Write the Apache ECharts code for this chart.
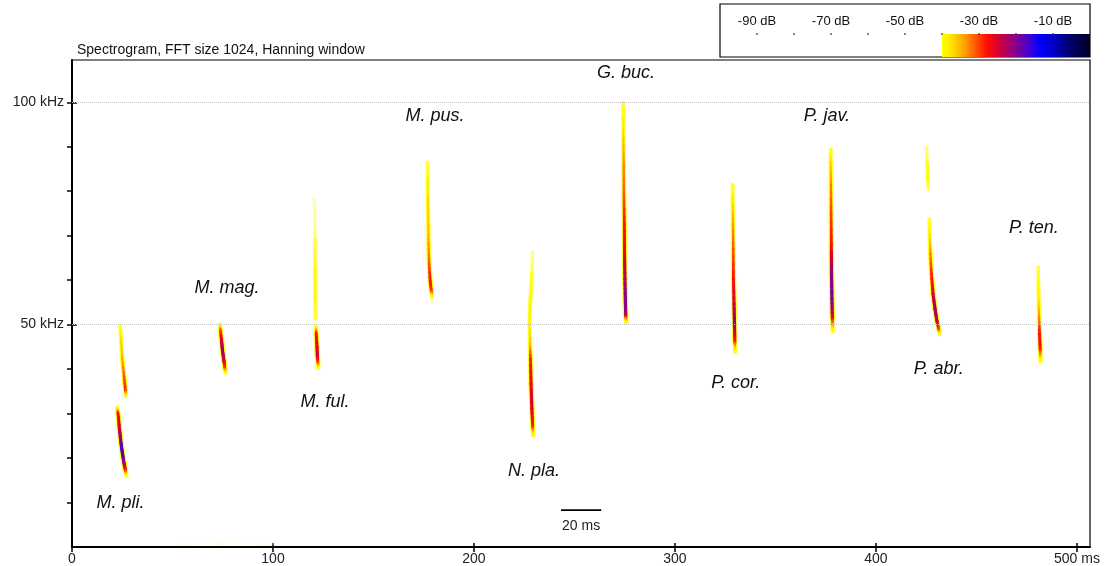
<!DOCTYPE html>
<html>
<head>
<meta charset="utf-8">
<script src="https://cdn.jsdelivr.net/npm/echarts@6/dist/echarts.min.js"></script>
<style>
html, body { margin: 0; padding: 0; background: #fff; }
#chart { width: 1111px; height: 566px; }
</style>
</head>
<body>
<div id="chart"></div>
<script>
// Echolocation call contours: [time (ms), frequency (kHz), level (dB)]
const mPliUpper = [[23.9,49.7,-42],[24.4,46.8,-37],[25.0,42.3,-35],[25.9,38.3,-31],[26.6,35.2,-29],[26.9,34.0,-41]];
const mPliLower = [[22.5,31.3,-41],[22.9,30.0,-28],[23.6,26.6,-25],[24.4,23.3,-19],[25.1,21.0,-16],[25.9,18.8,-22],[26.6,17.2,-28],[27.1,16.1,-41]];
const mMag = [[73.6,50.0,-41],[73.9,48.6,-30],[74.4,46.4,-26],[74.9,44.1,-21],[75.6,41.9,-24],[76.1,40.1,-30],[76.4,39.2,-41]];
const mFulUpper = [[120.6,78.2,-47],[120.9,69.2,-43],[120.9,62.5,-40],[121.0,55.8,-39],[121.2,51.3,-43]];
const mFulLower = [[121.4,49.5,-40],[121.5,47.9,-28],[121.9,45.0,-26],[122.1,42.8,-25],[122.4,41.2,-31],[122.5,40.3,-41]];
const mPus = [[176.9,86.5,-43],[177.0,82.7,-39],[177.1,78.2,-37],[177.3,72.6,-36],[177.4,68.1,-34],[177.7,63.6,-31],[178.2,59.8,-28],[178.8,57.6,-29],[179.1,56.2,-41]];
const nPla = [[229.1,66.3,-46],[228.8,61.4,-41],[228.1,55.8,-39],[227.6,50.2,-38],[227.9,45.7,-36],[228.1,42.3,-29],[228.4,36.7,-26],[228.8,31.1,-25],[229.2,27.1,-28],[229.5,25.1,-41]];
const gBuc = [[274.3,99.9,-42],[274.3,96.1,-39],[274.4,91.6,-36],[274.5,86.0,-33],[274.6,79.3,-31],[274.8,72.6,-28],[274.9,65.9,-26],[275.1,60.3,-23],[275.3,55.8,-20],[275.5,52.4,-21],[275.7,50.6,-40]];
const pCor = [[328.7,81.5,-42],[328.7,78.2,-38],[328.9,72.6,-34],[329.0,67.0,-31],[329.1,60.3,-28],[329.4,54.7,-25],[329.6,50.2,-21],[329.8,46.4,-27],[329.9,43.9,-41]];
const pJav = [[377.5,89.4,-42],[377.5,86.7,-37],[377.6,81.5,-33],[377.7,74.8,-30],[377.8,68.1,-28],[377.9,61.4,-21],[378.1,55.8,-19],[378.3,51.7,-25],[378.5,48.6,-41]];
const pAbrUpper = [[425.2,89.8,-45],[425.5,86.0,-41],[425.8,82.7,-40],[426.0,80.4,-44]];
const pAbrLower = [[426.5,73.7,-42],[426.7,70.3,-38],[427.1,65.9,-33],[427.6,61.4,-29],[428.4,56.9,-26],[429.4,53.5,-22],[430.3,50.9,-24],[431.3,48.8,-30],[431.6,47.9,-41]];
const pTen = [[480.7,63.0,-43],[480.8,59.1,-40],[481.0,54.7,-37],[481.2,51.3,-33],[481.4,47.9,-28],[481.7,44.6,-27],[481.9,41.7,-41]];
const lowNoise = [[52.7,0.7,-53],[75.0,0.8,-52],[100.0,0.7,-53],[102.5,0.7,-54]];

const traces = [mPliUpper, mPliLower, mMag, mFulUpper, mFulLower, mPus, nPla, gBuc, pCor, pJav, pAbrUpper, pAbrLower, pTen, lowNoise];

// Species names and where each name sits (time ms, frequency kHz)
const speciesNames = ['M. pli.', 'M. mag.', 'M. ful.', 'M. pus.', 'N. pla.', 'G. buc.', 'P. cor.', 'P. jav.', 'P. abr.', 'P. ten.'];
const speciesLabelAt = [[24.1,9.9],[77.1,58.3],[125.9,32.7],[180.6,97.0],[229.9,17.2],[275.6,106.6],[330.3,36.9],[375.6,97.0],[431.3,40.1],[478.6,71.7]];

// Axis ticks
const timeTicks = [0, 100, 200, 300, 400, 500];
const timeTickLabels = ['0', '100', '200', '300', '400', '500 ms'];
const freqMinorTicks = [10, 20, 30, 40, 50, 60, 70, 80, 90, 100];
const freqMajorTicks = [50, 100];
const freqTickLabels = ['50 kHz', '100 kHz'];
const gridLinesKHz = [50, 100];

// Level colour scale
const levelTicks = [-90, -70, -50, -30, -10];
const levelDots = [-90, -80, -70, -60, -50, -40, -30, -20, -10];
const levelStops = [
  [-47, '#ffffd8'], [-40, '#ffff00'], [-38, '#ffee00'], [-33.6, '#ff9900'], [-28, '#ff1000'],
  [-24.4, '#d0003a'], [-21.6, '#a00070'], [-18.8, '#7000a8'], [-16, '#3c00d8'],
  [-13.6, '#0000ff'], [-10, '#0000c8'], [-5.6, '#000070'], [0, '#000020']
];

// Time scale bar
const scaleBarMs = [243.3, 263.3];
const scaleBarKHz = 8.3;
const scaleBarText = '20 ms';
const scaleBarTextAt = [253.3, 4.6];

const FONT = "'Liberation Sans', Arial, sans-serif";

function hexToRgb(h) {
  return [parseInt(h.slice(1, 3), 16), parseInt(h.slice(3, 5), 16), parseInt(h.slice(5, 7), 16)];
}
const stopRgb = levelStops.map(s => [s[0], hexToRgb(s[1])]);

function levelColor(db) {
  if (db <= stopRgb[0][0]) return 'rgb(' + stopRgb[0][1].join(',') + ')';
  for (let i = 1; i < stopRgb.length; i++) {
    if (db <= stopRgb[i][0]) {
      const a = stopRgb[i - 1], b = stopRgb[i];
      const t = (db - a[0]) / (b[0] - a[0]);
      const c = a[1].map((v, k) => Math.round(v + (b[1][k] - v) * t));
      return 'rgb(' + c.join(',') + ')';
    }
  }
  return 'rgb(' + stopRgb[stopRgb.length - 1][1].join(',') + ')';
}
function coreWidth(db) {
  return Math.max(0.6, Math.min(3.2, 0.8 + (db + 45) * 0.12));
}
function haloAlpha(db) {
  return Math.max(0.06, Math.min(0.85, (db + 49) / 10));
}

// One segment per pair of neighbouring contour points
const segments = [];
traces.forEach(tr => {
  for (let i = 0; i < tr.length - 1; i++) {
    segments.push([tr[i][0], tr[i][1], tr[i + 1][0], tr[i + 1][1], tr[i][2], tr[i + 1][2]]);
  }
});

function renderHalo(params, api) {
  const a = api.coord([api.value(0), api.value(1)]);
  const b = api.coord([api.value(2), api.value(3)]);
  const db = (api.value(4) + api.value(5)) / 2;
  return {
    type: 'line',
    shape: { x1: a[0], y1: a[1], x2: b[0], y2: b[1] },
    style: { stroke: 'rgba(255,255,0,' + haloAlpha(db) + ')', lineWidth: coreWidth(db) + 2.4, lineCap: 'round' }
  };
}
function renderCore(params, api) {
  const a = api.coord([api.value(0), api.value(1)]);
  const b = api.coord([api.value(2), api.value(3)]);
  const d0 = api.value(4), d1 = api.value(5);
  const parts = 4, children = [];
  for (let k = 0; k < parts; k++) {
    const u0 = k / parts, u1 = (k + 1) / parts, um = (u0 + u1) / 2;
    const db = d0 + (d1 - d0) * um;
    children.push({
      type: 'line',
      shape: {
        x1: a[0] + (b[0] - a[0]) * u0, y1: a[1] + (b[1] - a[1]) * u0,
        x2: a[0] + (b[0] - a[0]) * u1, y2: a[1] + (b[1] - a[1]) * u1
      },
      style: { stroke: levelColor(db), lineWidth: coreWidth(db), lineCap: 'round', opacity: db < -48 ? 0.3 : 1 }
    });
  }
  return { type: 'group', children };
}

const chart = echarts.init(document.getElementById('chart'), null, { renderer: 'canvas' });

chart.setOption({
  animation: false,
  backgroundColor: '#fff',
  title: {
    text: 'Spectrogram, FFT size 1024, Hanning window',
    left: 77, top: 43, padding: 0,
    textStyle: { fontSize: 14, fontWeight: 'normal', color: '#111', fontFamily: FONT }
  },
  grid: [
    { left: 72, top: 60, width: 1018, height: 489, show: true, borderColor: '#000', borderWidth: 1.2, backgroundColor: 'transparent' },
    { left: 720, top: 4, width: 370, height: 53, show: true, borderColor: '#000', borderWidth: 1.2, backgroundColor: '#fff' }
  ],
  xAxis: [
    {
      gridIndex: 0, type: 'value', min: 0, max: 506.5, position: 'bottom',
      axisLine: { show: true, lineStyle: { color: '#000', width: 2 } },
      axisTick: { show: true, customValues: timeTicks, length: 5, lineStyle: { color: '#000', width: 1.5 } },
      axisLabel: {
        customValues: timeTicks, margin: 5, fontSize: 14, color: '#222', fontFamily: FONT,
        formatter: v => timeTickLabels[timeTicks.indexOf(v)]
      },
      splitLine: { show: false }
    },
    {
      gridIndex: 0, type: 'value', min: 0, max: 506.5, position: 'bottom',
      axisLine: { show: false },
      axisTick: { show: true, inside: true, customValues: timeTicks, length: 4, lineStyle: { color: '#000', width: 1.5 } },
      axisLabel: { show: false },
      splitLine: { show: false }
    },
    {
      gridIndex: 1, type: 'value', min: -100, max: 0, position: 'top',
      axisLine: { show: false },
      axisTick: { show: false },
      axisLabel: {
        inside: true, customValues: levelTicks, margin: 11, fontSize: 13, color: '#111', fontFamily: FONT,
        formatter: v => v + ' dB'
      },
      splitLine: { show: false }
    }
  ],
  yAxis: [
    {
      gridIndex: 0, type: 'value', min: 0, max: 109.5, position: 'left',
      axisLine: { show: true, lineStyle: { color: '#000', width: 2 } },
      axisTick: { show: true, customValues: freqMinorTicks, length: 5, lineStyle: { color: '#000', width: 1.5 } },
      axisLabel: {
        customValues: freqMajorTicks, margin: 8, fontSize: 14, color: '#222', fontFamily: FONT,
        formatter: v => freqTickLabels[freqMajorTicks.indexOf(v)]
      },
      splitLine: { show: false }
    },
    {
      gridIndex: 0, type: 'value', min: 0, max: 109.5, position: 'left',
      axisLine: { show: false },
      axisTick: { show: true, inside: true, customValues: freqMajorTicks, length: 5, lineStyle: { color: '#000', width: 1.5 } },
      axisLabel: { show: false },
      splitLine: { show: false }
    },
    { gridIndex: 1, type: 'value', min: 0, max: 1, show: false }
  ],
  series: [
    {
      // dotted reference lines
      type: 'line', xAxisIndex: 0, yAxisIndex: 0, data: [], silent: true,
      markLine: {
        silent: true, symbol: 'none', label: { show: false },
        lineStyle: { color: '#c4c4c4', type: 'dotted', width: 1 },
        data: gridLinesKHz.map(v => ({ yAxis: v }))
      }
    },
    {
      type: 'custom', xAxisIndex: 0, yAxisIndex: 0, silent: true,
      renderItem: renderHalo, data: segments, encode: { x: [0, 2], y: [1, 3] }
    },
    {
      type: 'custom', xAxisIndex: 0, yAxisIndex: 0, silent: true,
      renderItem: renderCore, data: segments, encode: { x: [0, 2], y: [1, 3] }
    },
    {
      // species names
      type: 'custom', xAxisIndex: 0, yAxisIndex: 0, silent: true,
      data: speciesLabelAt,
      renderItem: (params, api) => {
        const p = api.coord([api.value(0), api.value(1)]);
        return {
          type: 'text', x: p[0], y: p[1],
          style: {
            text: speciesNames[params.dataIndex], fill: '#111',
            font: 'italic 18px ' + FONT, align: 'center', verticalAlign: 'middle'
          }
        };
      }
    },
    {
      // time scale bar
      type: 'line', xAxisIndex: 0, yAxisIndex: 0, silent: true, symbol: 'none',
      data: scaleBarMs.map(t => [t, scaleBarKHz]),
      lineStyle: { color: '#000', width: 1.6 }
    },
    {
      type: 'custom', xAxisIndex: 0, yAxisIndex: 0, silent: true,
      data: [scaleBarTextAt],
      renderItem: (params, api) => {
        const p = api.coord([api.value(0), api.value(1)]);
        return {
          type: 'text', x: p[0], y: p[1],
          style: { text: scaleBarText, fill: '#222', font: '14px ' + FONT, align: 'center', verticalAlign: 'middle' }
        };
      }
    },
    {
      // colour scale bar
      type: 'custom', xAxisIndex: 2, yAxisIndex: 2, silent: true,
      data: [[-40, 0, 0, 0.434]],
      renderItem: (params, api) => {
        const p0 = api.coord([api.value(0), api.value(3)]);
        const p1 = api.coord([api.value(2), api.value(1)]);
        const lo = api.value(0), hi = api.value(2);
        const stops = levelStops.filter(s => s[0] >= lo).map(s => ({ offset: (s[0] - lo) / (hi - lo), color: s[1] }));
        return {
          type: 'rect',
          shape: { x: p0[0], y: p0[1], width: p1[0] - p0[0], height: p1[1] - p0[1] },
          style: { fill: new echarts.graphic.LinearGradient(0, 0, 1, 0, stops) }
        };
      }
    },
    {
      type: 'scatter', xAxisIndex: 2, yAxisIndex: 2, silent: true,
      data: levelDots.map(d => [d, 0.434]),
      symbolSize: 2, itemStyle: { color: '#333' }
    }
  ]
});
</script>
</body>
</html>
